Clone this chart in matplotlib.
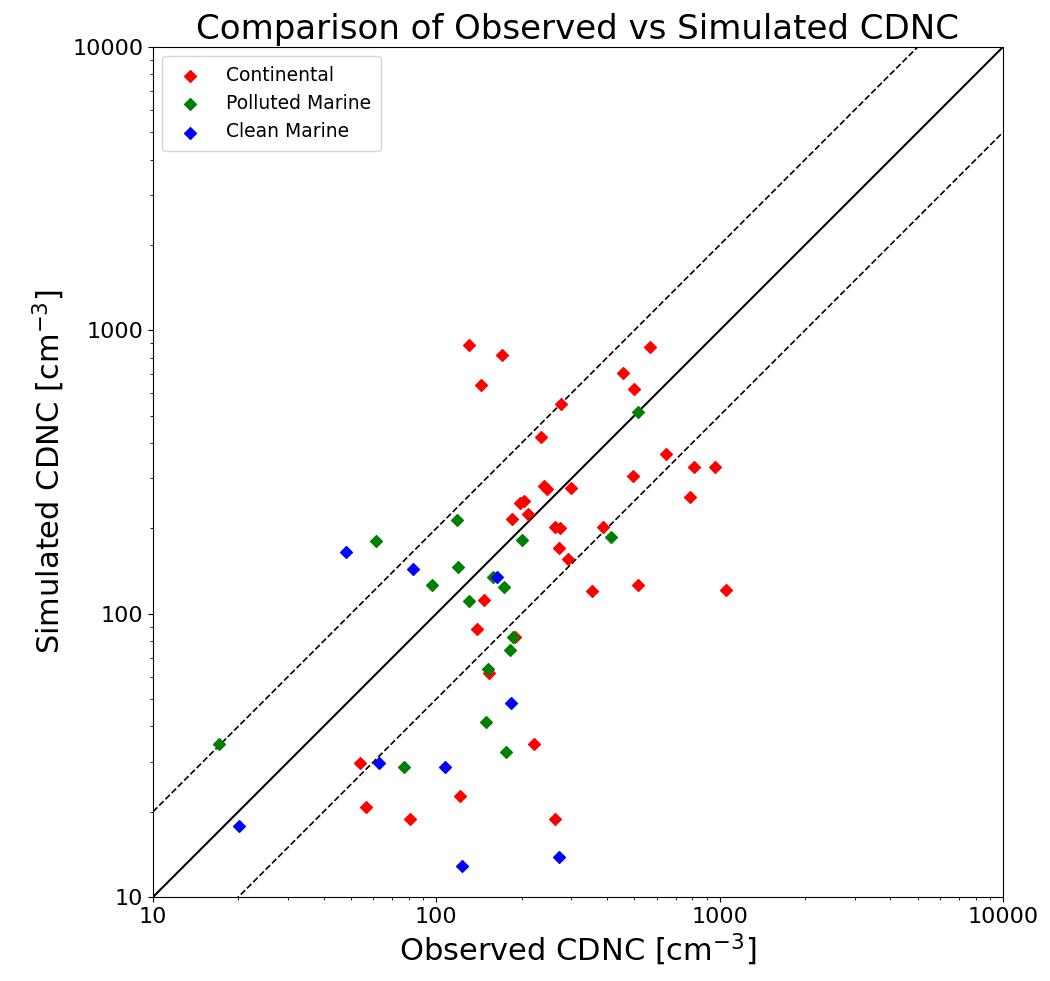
import matplotlib
matplotlib.use("Agg")
import matplotlib.pyplot as plt
import numpy as np
from matplotlib.ticker import FuncFormatter

# Continental
cont_obs = [130, 171, 144, 567, 456, 499, 275, 234, 647, 811, 963, 494, 786, 1052, 515,
            240, 246, 300, 198, 204, 211, 185, 262, 274, 387, 270, 292, 355, 147, 139,
            190, 154, 222, 121.5, 81, 263, 54, 56.5]
cont_sim = [888, 818, 641, 874, 707, 621, 550, 420, 366, 329, 329, 306, 258, 121, 126,
            282, 275, 278, 246, 250, 225, 216, 203, 201, 203, 170, 156, 120, 112, 88,
            83, 62, 34.6, 22.8, 18.8, 18.8, 29.6, 20.8]
# Polluted Marine
pm_obs = [515, 414, 118, 200.6, 119, 96.5, 159, 173, 130.4, 61.1, 17.1, 77.1, 187, 182.4,
          152.6, 150.2, 175.7]
pm_sim = [514, 186.6, 213.6, 182.4, 145.8, 126.2, 134.7, 124.5, 110.9, 180, 34.7, 28.7, 83,
          74.3, 63.6, 41.5, 32.6]
# Clean Marine
cm_obs = [47.9, 82.5, 163.8, 183, 62.6, 107.6, 20.1, 122.9, 272]
cm_sim = [164.7, 144.2, 134.7, 48.4, 29.7, 28.8, 17.8, 12.9, 13.8]

fig = plt.figure(figsize=(10.5, 9.81), dpi=100)
ax = fig.add_axes([0.1457, 0.0856, 0.8095, 0.8665])

ax.scatter(cont_obs, cont_sim, marker='D', color='red', s=36, label='Continental', zorder=3)
ax.scatter(pm_obs, pm_sim, marker='D', color='green', s=36, label='Polluted Marine', zorder=3)
ax.scatter(cm_obs, cm_sim, marker='D', color='blue', s=36, label='Clean Marine', zorder=3)

lims = np.array([10, 10000])
ax.plot(lims, lims, color='black', lw=1.5, zorder=2)
ax.plot(lims, lims * 2, color='black', lw=1.2, ls='--', zorder=2)
ax.plot(lims, lims / 2, color='black', lw=1.2, ls='--', zorder=2)

ax.set_xscale('log')
ax.set_yscale('log')
ax.set_xlim(10, 10000)
ax.set_ylim(10, 10000)
fmt = FuncFormatter(lambda v, p: f"{int(round(v))}")
ax.xaxis.set_major_formatter(fmt)
ax.yaxis.set_major_formatter(fmt)
ax.tick_params(axis='both', which='major', labelsize=16)

ax.set_xlabel('Observed CDNC [cm$^{-3}$]', fontsize=22)
ax.set_ylabel('Simulated CDNC [cm$^{-3}$]', fontsize=22)
ax.set_title('Comparison of Observed vs Simulated CDNC', fontsize=24.5)
ax.legend(loc='upper left', fontsize=13.5, handletextpad=0.9, borderpad=0.5)

fig.savefig('out.png', dpi=100)
